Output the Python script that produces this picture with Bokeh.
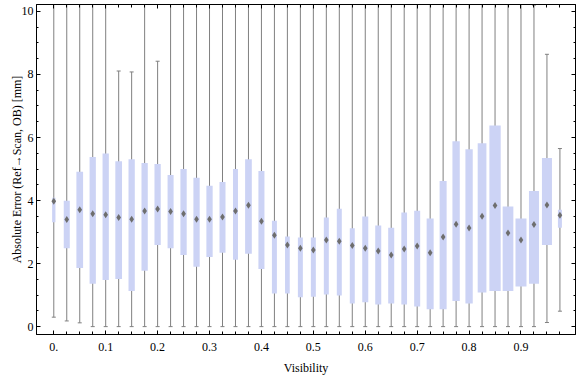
from bokeh.plotting import figure
from bokeh.models import LinearAxis, FixedTicker, CustomJSTickFormatter, Range1d, ColumnDataSource
from bokeh.embed import file_html
from bokeh.resources import INLINE

# ---- data ----
visibility = [0.0, 0.025, 0.05, 0.075, 0.1, 0.125, 0.15, 0.175, 0.2, 0.225,
              0.25, 0.275, 0.3, 0.325, 0.35, 0.375, 0.4, 0.425, 0.45, 0.475,
              0.5, 0.525, 0.55, 0.575, 0.6, 0.625, 0.65, 0.675, 0.7, 0.725,
              0.75, 0.775, 0.8, 0.825, 0.85, 0.875, 0.9, 0.925, 0.95, 0.975]

whisker_low = [0.30, 0.18, 0.12, 0.0, 0.0, 0.0, 0.0, 0.0, 0.0, 0.0,
               0.0, 0.0, 0.0, 0.0, 0.0, 0.0, 0.0, 0.0, 0.0, 0.0,
               0.0, 0.0, 0.0, 0.0, 0.0, 0.0, 0.0, 0.0, 0.0, 0.0,
               0.0, 0.0, 0.0, 0.0, 0.0, 0.0, 0.0, 0.0, 0.13, 0.49]

whisker_high = [12.0, 12.0, 12.0, 12.0, 12.0, 8.11, 8.08, 12.0, 8.42, 12.0,
                12.0, 12.0, 12.0, 12.0, 12.0, 12.0, 12.0, 12.0, 12.0, 12.0,
                12.0, 12.0, 12.0, 12.0, 12.0, 12.0, 12.0, 12.0, 12.0, 12.0,
                12.0, 12.0, 12.0, 12.0, 12.0, 12.0, 12.0, 10.2, 8.64, 5.65]

q3 = [4.09, 3.99, 4.91, 5.38, 5.49, 5.25, 5.31, 5.19, 5.16, 4.81,
      5.00, 4.72, 4.47, 4.59, 5.00, 5.31, 4.94, 3.36, 2.86, 2.83,
      2.83, 3.46, 3.74, 3.12, 3.49, 3.21, 3.14, 3.62, 3.68, 3.43,
      4.62, 5.88, 5.63, 5.82, 6.38, 3.81, 3.43, 4.30, 5.35, 3.71]

q1 = [3.31, 2.49, 1.86, 1.36, 1.48, 1.51, 1.13, 1.77, 2.59, 2.49,
      2.27, 1.90, 2.21, 2.34, 2.12, 2.31, 1.83, 1.05, 1.05, 0.93,
      0.95, 1.02, 0.99, 0.73, 0.77, 0.70, 0.73, 0.70, 0.64, 0.55,
      0.55, 0.81, 0.73, 1.08, 1.13, 1.13, 1.27, 1.36, 2.59, 3.14]

median = [3.98, 3.40, 3.71, 3.58, 3.55, 3.46, 3.41, 3.67, 3.73, 3.65,
          3.58, 3.41, 3.41, 3.48, 3.67, 3.85, 3.34, 2.90, 2.59, 2.49,
          2.43, 2.75, 2.71, 2.57, 2.49, 2.40, 2.27, 2.46, 2.56, 2.34,
          2.84, 3.25, 3.13, 3.50, 3.84, 2.97, 2.75, 3.24, 3.86, 3.53]

box_width = [0.0064, 0.0116, 0.0129, 0.0121, 0.0121, 0.0129, 0.0121, 0.0121, 0.0121, 0.0116,
             0.0121, 0.0121, 0.0121, 0.0116, 0.0096, 0.0129, 0.0116, 0.0096, 0.0091, 0.0096,
             0.0096, 0.0096, 0.0096, 0.0096, 0.0116, 0.0116, 0.0116, 0.0110, 0.0116, 0.0135,
             0.0135, 0.0141, 0.0141, 0.0168, 0.0218, 0.0206, 0.0212, 0.0193, 0.0193, 0.0077]

x_major = [0.0, 0.1, 0.2, 0.3, 0.4, 0.5, 0.6, 0.7, 0.8, 0.9]
y_major = [0, 2, 4, 6, 8, 10]
y_minor = [0, 0.5, 1, 1.5, 2, 2.5, 3, 3.5, 4, 4.5, 5, 5.5, 6, 6.5, 7, 7.5, 8, 8.5, 9, 9.5, 10]

src = ColumnDataSource(dict(x=visibility, lo=whisker_low, hi=whisker_high,
                            q1=q1, q3=q3, med=median, w=box_width))

FONT = "Liberation Serif"
p = figure(width=576, height=377, output_backend="svg", toolbar_location=None,
           x_range=Range1d(-0.0333, 1.005), y_range=Range1d(-0.25, 10.22),
           x_axis_type=None, y_axis_type=None,
           min_border_left=36, min_border_right=1, min_border_top=4, min_border_bottom=40)
p.outline_line_color = "black"
p.outline_line_width = 1
p.background_fill_color = "white"

gray = "#808080"
p.segment(x0="x", y0="lo", x1="x", y1="hi", source=src, line_color=gray, line_width=1)
p.scatter(x="x", y="lo", source=src, marker="dash", size=4, line_color=gray, line_width=1)
p.scatter(x="x", y="hi", source=src, marker="dash", size=4, line_color=gray, line_width=1)
p.vbar(x="x", width="w", bottom="q1", top="q3", source=src, fill_color="#CCD3F5", line_color=None)
p.scatter(x="x", y="med", source=src, marker="diamond", size=7, fill_color="#6E6E6E", line_color=None)

xticker = FixedTicker(ticks=x_major, minor_ticks=visibility)
yticker = FixedTicker(ticks=y_major, minor_ticks=y_minor)
xfmt = CustomJSTickFormatter(code="return tick == 0 ? '0.' : tick.toFixed(1);")
blank = CustomJSTickFormatter(code="return '';")

def style(ax, labels=True):
    ax.major_tick_in = 4
    ax.major_tick_out = 0
    ax.minor_tick_in = 2
    ax.minor_tick_out = 0
    ax.axis_line_color = "black"
    ax.major_tick_line_color = "black"
    ax.minor_tick_line_color = "black"
    ax.major_label_text_font = FONT
    ax.major_label_text_color = "black"
    ax.axis_label_text_font = FONT
    ax.axis_label_text_font_style = "normal"
    ax.axis_label_text_color = "black"
    if labels:
        ax.major_label_text_font_size = "12px"
        ax.axis_label_text_font_size = "12px"
    else:
        ax.major_label_text_font_size = "0px"
        ax.major_label_standoff = 0
        ax.axis_label_standoff = 0

bottom = LinearAxis(ticker=xticker, formatter=xfmt, axis_label="Visibility")
style(bottom)
bottom.minor_tick_in = 3
bottom.major_label_standoff = 8
bottom.axis_label_standoff = 7
p.add_layout(bottom, "below")

left = LinearAxis(ticker=yticker, axis_label="Absolute Error (Ref\u2192Scan, OB) [mm]")
style(left)
left.major_label_standoff = 3
left.axis_label_standoff = -5
p.add_layout(left, "left")

top = LinearAxis(ticker=xticker, formatter=blank)
style(top, labels=False)
top.minor_tick_in = 3
p.add_layout(top, "above")

right = LinearAxis(ticker=yticker, formatter=blank)
style(right, labels=False)
p.add_layout(right, "right")

open("out.html", "w").write(file_html(p, INLINE))
